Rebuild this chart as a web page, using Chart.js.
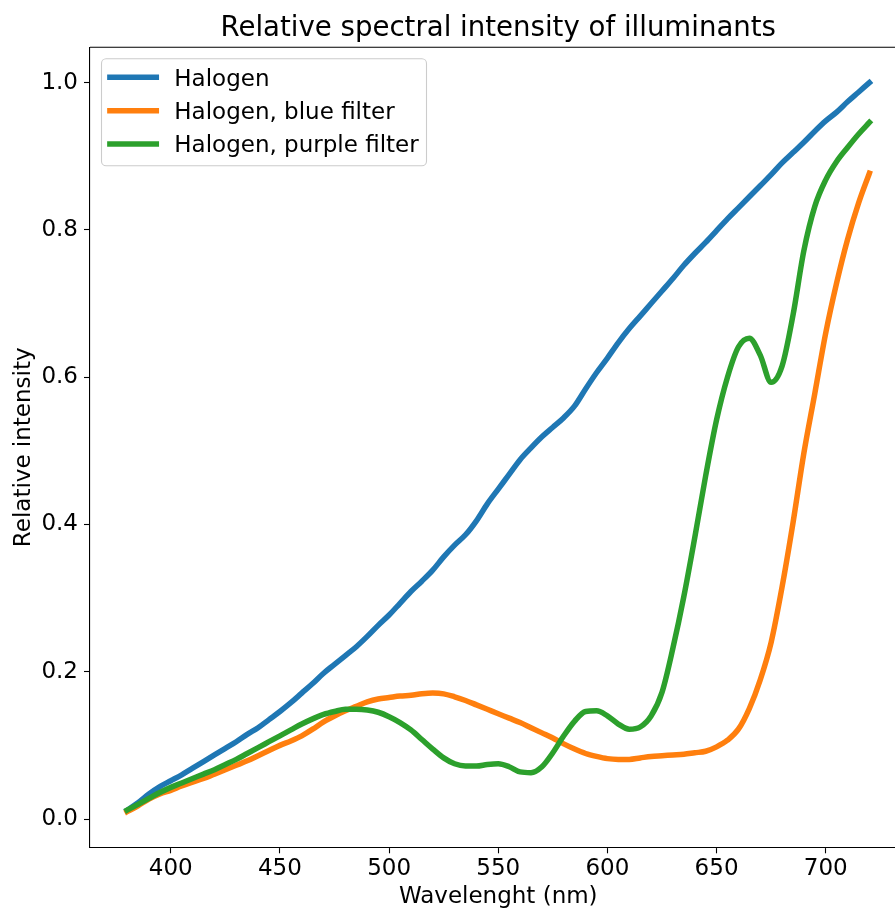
<!DOCTYPE html>
<html>
<head>
<meta charset="utf-8">
<script src="https://cdn.jsdelivr.net/npm/chart.js@4.4.1/dist/chart.umd.min.js"></script>
<style>
    html, body { margin: 0; padding: 0; background: #fff; overflow: hidden; }
    #wrap { width: 912px; height: 909px; }
</style>
</head>
<body>
<div id="wrap"><canvas id="spectrum-chart" width="912" height="909"></canvas></div>
<script>
// Wavelengths (nm) and relative intensities
const wavelengths = [
    380, 385, 390, 395, 400, 405, 410, 415, 420, 425, 430, 435, 440, 445, 450, 455, 460, 465, 470, 475,
    480, 485, 490, 495, 500, 505, 510, 515, 520, 525, 530, 535, 540, 545, 550, 555, 560, 565, 570, 575,
    580, 585, 590, 595, 600, 605, 610, 615, 620, 625, 630, 635, 640, 645, 650, 655, 660, 665, 670, 675,
    680, 685, 690, 695, 700, 705, 710, 715, 720
];

const halogen = [
    0.012, 0.022, 0.034, 0.044, 0.052, 0.060, 0.069, 0.078, 0.087, 0.096, 0.105, 0.115, 0.124, 0.135, 0.146, 0.158, 0.171, 0.184, 0.198, 0.210,
    0.222, 0.234, 0.248, 0.263, 0.277, 0.293, 0.309, 0.323, 0.338, 0.356, 0.372, 0.386, 0.405, 0.428, 0.448, 0.468, 0.488, 0.504, 0.519, 0.532,
    0.545, 0.561, 0.584, 0.606, 0.626, 0.647, 0.666, 0.683, 0.700, 0.717, 0.734, 0.752, 0.768, 0.783, 0.799, 0.815, 0.830, 0.845, 0.860, 0.875,
    0.891, 0.905, 0.919, 0.934, 0.948, 0.960, 0.974, 0.987, 1.000
];

const blueFilter = [
    0.010, 0.018, 0.027, 0.034, 0.039, 0.045, 0.050, 0.055, 0.061, 0.067, 0.073, 0.079, 0.086, 0.093, 0.100, 0.106, 0.113, 0.122, 0.132, 0.140,
    0.147, 0.153, 0.159, 0.163, 0.165, 0.167, 0.168, 0.170, 0.171, 0.170, 0.166, 0.161, 0.155, 0.149, 0.143, 0.137, 0.131, 0.124, 0.117, 0.110,
    0.102, 0.095, 0.089, 0.085, 0.082, 0.081, 0.081, 0.083, 0.085, 0.086, 0.087, 0.088, 0.090, 0.092, 0.098, 0.107, 0.122, 0.150, 0.189, 0.240,
    0.315, 0.402, 0.497, 0.578, 0.660, 0.728, 0.787, 0.836, 0.877
];

const purpleFilter = [
    0.012, 0.020, 0.028, 0.036, 0.043, 0.049, 0.055, 0.061, 0.067, 0.074, 0.081, 0.089, 0.097, 0.105, 0.113, 0.121, 0.129, 0.136, 0.142, 0.146,
    0.149, 0.149, 0.148, 0.145, 0.139, 0.131, 0.121, 0.108, 0.095, 0.083, 0.075, 0.072, 0.072, 0.074, 0.075, 0.071, 0.064, 0.063, 0.071, 0.090,
    0.113, 0.133, 0.146, 0.147, 0.140, 0.129, 0.122, 0.125, 0.140, 0.172, 0.232, 0.302, 0.382, 0.466, 0.542, 0.600, 0.641, 0.653, 0.630, 0.593,
    0.615, 0.684, 0.772, 0.832, 0.868, 0.893, 0.912, 0.930, 0.946
];

const seriesNames = ['Halogen', 'Halogen, blue filter', 'Halogen, purple filter'];
const seriesColors = ['#1f77b4', '#ff7f0e', '#2ca02c'];
const xTicks = [400, 450, 500, 550, 600, 650, 700];
const yTicks = [0.0, 0.2, 0.4, 0.6, 0.8, 1.0];

const FONT = 'DejaVu Sans';

function toPoints(values) {
    return wavelengths.map((w, i) => ({ x: w, y: values[i] }));
}

// top/right spines plus a matplotlib-like legend box
const framePlugin = {
    id: 'frame',
    afterDraw(chart) {
        const { ctx, chartArea: a } = chart;
        ctx.save();
        ctx.strokeStyle = '#000';
        ctx.lineWidth = 1.1;
        ctx.beginPath();
        ctx.moveTo(a.left, a.top);
        ctx.lineTo(a.right, a.top);
        ctx.lineTo(a.right, a.bottom);
        ctx.stroke();

        // legend
        const bx = a.left + 11.5, by = a.top + 11.5, bw = 325, bh = 107;
        ctx.beginPath();
        ctx.roundRect(bx, by, bw, bh, 4.6);
        ctx.fillStyle = 'rgba(255,255,255,0.8)';
        ctx.fill();
        ctx.strokeStyle = '#cccccc';
        ctx.lineWidth = 1.1;
        ctx.stroke();

        ctx.font = '23px "' + FONT + '"';
        ctx.textBaseline = 'alphabetic';
        ctx.textAlign = 'left';
        seriesNames.forEach((name, i) => {
            const rowY = by + 18.5 + i * 33.4;
            ctx.beginPath();
            ctx.strokeStyle = seriesColors[i];
            ctx.lineWidth = 5.5;
            ctx.lineCap = 'square';
            ctx.moveTo(bx + 8.4, rowY);
            ctx.lineTo(bx + 54.8, rowY);
            ctx.stroke();
            ctx.fillStyle = '#000';
            ctx.fillText(name, bx + 72.8, rowY + 8.3);
        });
        ctx.restore();
    }
};

const ctx = document.getElementById('spectrum-chart').getContext('2d');
new Chart(ctx, {
    type: 'line',
    data: {
        datasets: [
            { label: seriesNames[0], data: toPoints(halogen), borderColor: seriesColors[0], order: 2 },
            { label: seriesNames[1], data: toPoints(blueFilter), borderColor: seriesColors[1], order: 1 },
            { label: seriesNames[2], data: toPoints(purpleFilter), borderColor: seriesColors[2], order: 0 }
        ]
    },
    options: {
        responsive: false,
        animation: false,
        devicePixelRatio: 1,
        layout: { padding: { left: 0, right: 5.5, top: 0, bottom: 0 } },
        elements: {
            point: { radius: 0 },
            line: { borderWidth: 5.5, cubicInterpolationMode: 'monotone', fill: false, borderCapStyle: 'square', borderJoinStyle: 'round' }
        },
        plugins: {
            legend: { display: false },
            tooltip: { enabled: false },
            title: {
                display: true,
                fullSize: false,
                text: 'Relative spectral intensity of illuminants',
                color: '#000',
                font: { family: FONT, size: 27.6, weight: 'normal', lineHeight: 1 },
                padding: { top: 15.3, bottom: 4.4 }
            }
        },
        scales: {
            x: {
                type: 'linear',
                min: 363,
                max: 737,
                afterBuildTicks: (axis) => { axis.ticks = xTicks.map(v => ({ value: v })); },
                afterFit: (scale) => { scale.height = 61.7; },
                grid: { drawOnChartArea: false, drawTicks: true, tickLength: 6, tickWidth: 1.1, tickColor: '#000' },
                border: { display: true, color: '#000', width: 1.1 },
                ticks: {
                    autoSkip: false, maxRotation: 0, padding: 4.5, color: '#000',
                    font: { family: FONT, size: 23, lineHeight: 1 }
                },
                title: {
                    display: true, text: 'Wavelenght (nm)', color: '#000',
                    font: { family: FONT, size: 23, lineHeight: 1 },
                    padding: { top: 0, bottom: 0.3 }
                }
            },
            y: {
                type: 'linear',
                min: -0.0384,
                max: 1.048,
                afterBuildTicks: (axis) => { axis.ticks = yTicks.map(v => ({ value: v })); },
                afterFit: (scale) => { scale.width = 90; },
                grid: { drawOnChartArea: false, drawTicks: true, tickLength: 6, tickWidth: 1.1, tickColor: '#000' },
                border: { display: true, color: '#000', width: 1.1 },
                ticks: {
                    padding: 6, color: '#000',
                    font: { family: FONT, size: 23, lineHeight: 1 },
                    callback: (v) => Number(v).toFixed(1)
                },
                title: {
                    display: true, text: 'Relative intensity', color: '#000',
                    font: { family: FONT, size: 23, lineHeight: 1 },
                    padding: { top: 12.7, bottom: 0 }
                }
            }
        }
    },
    plugins: [framePlugin]
});
</script>
</body>
</html>
